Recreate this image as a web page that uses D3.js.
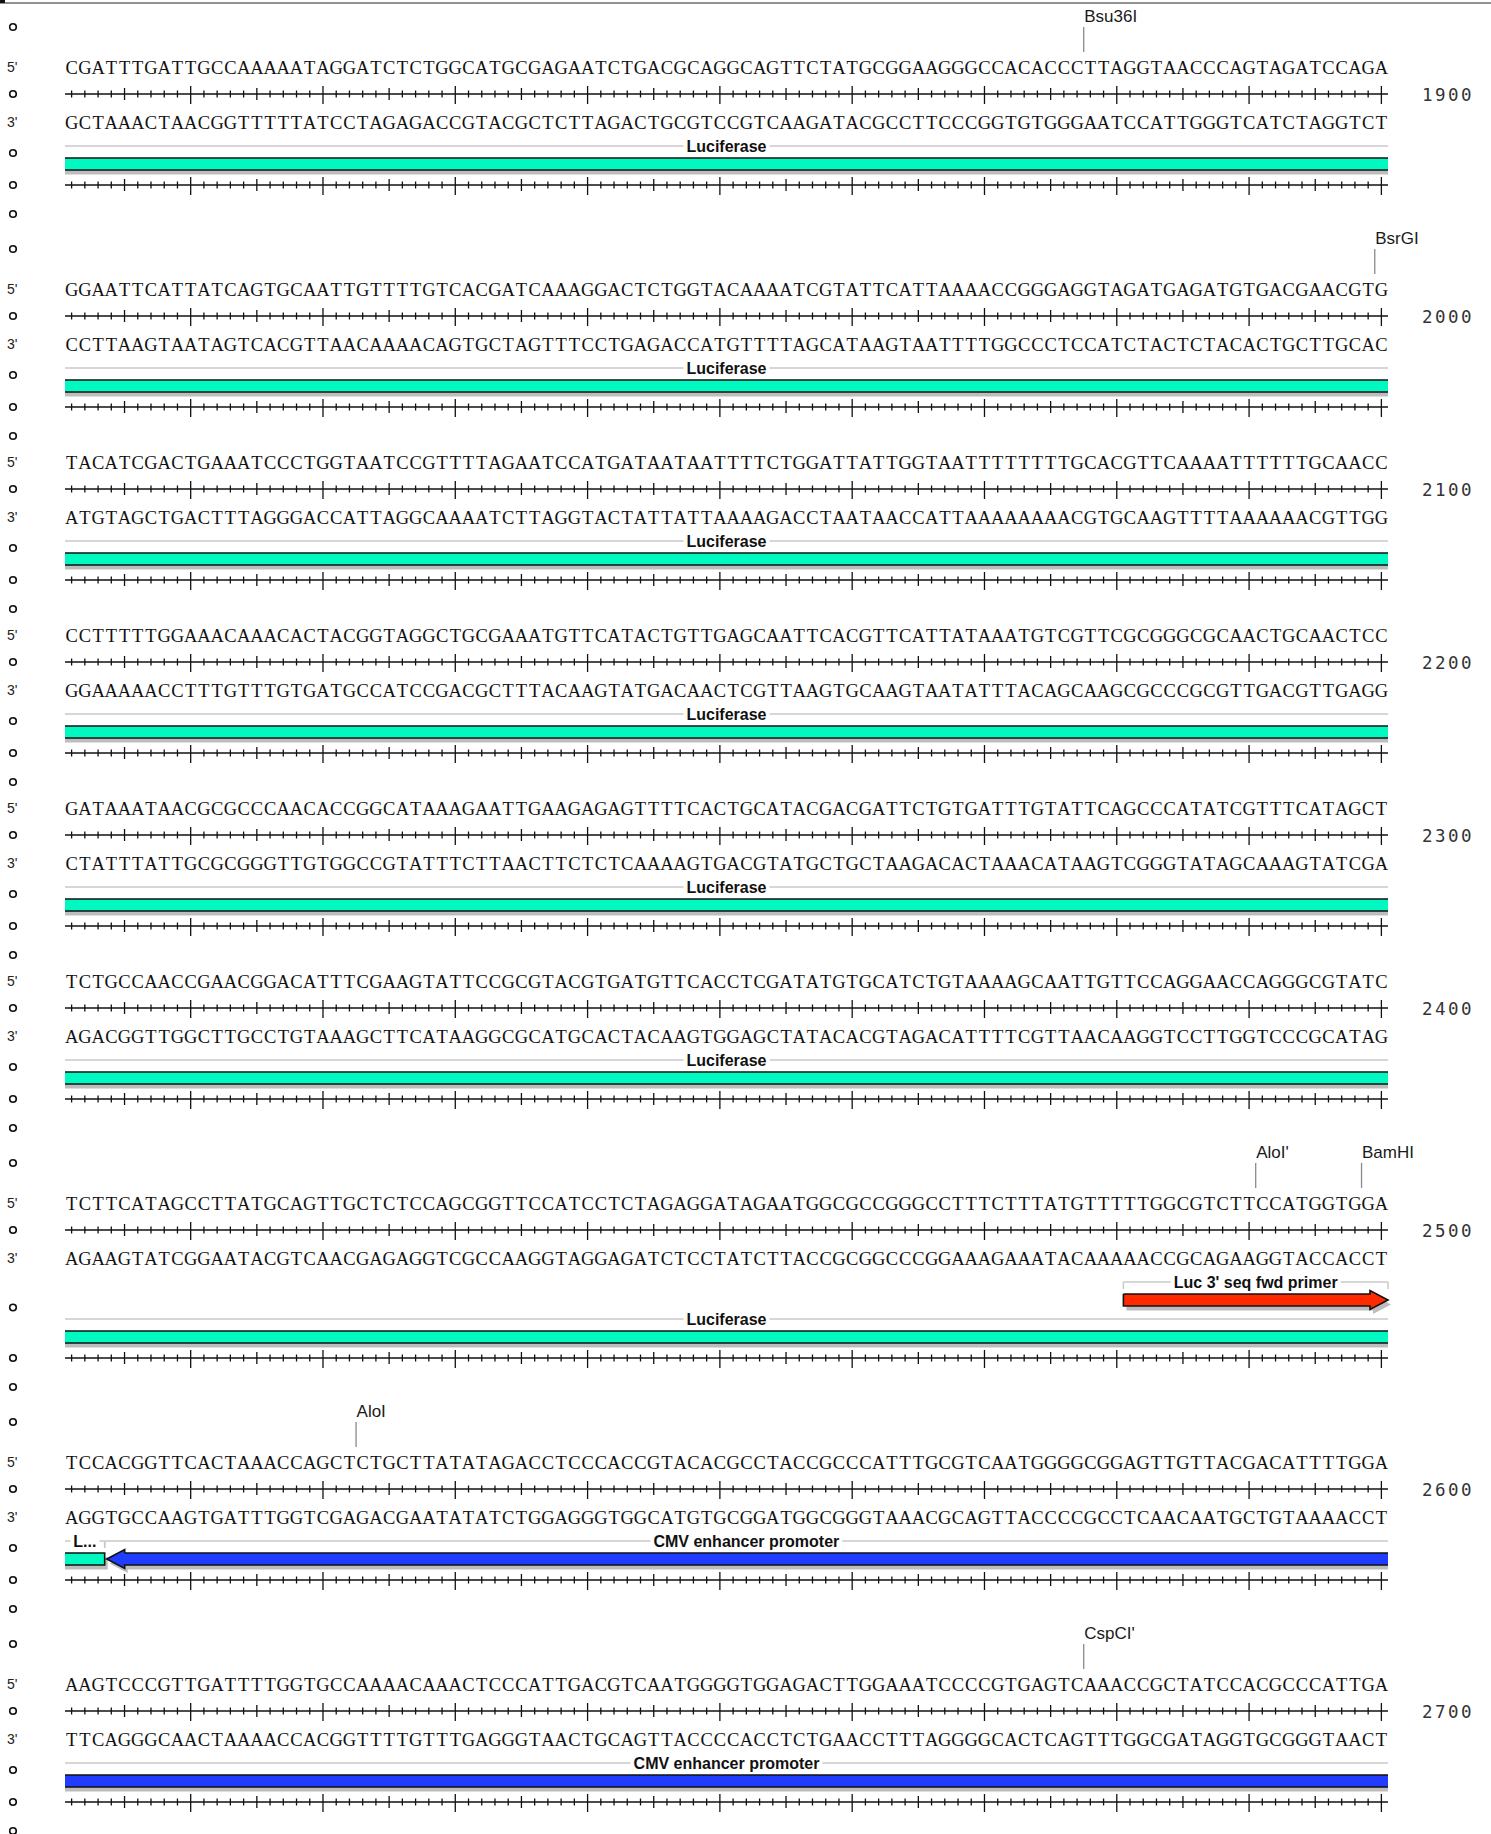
<!DOCTYPE html>
<html>
<head>
<meta charset="utf-8">
<script src="https://cdn.jsdelivr.net/npm/d3@7"></script>
<style>
body { margin: 0; background: #fff; }
svg { display: block; }
</style>
</head>
<body>
<svg id="seqSvg" width="1491" height="1834"></svg>
<script>
// top strand, 100 bp per row
const topStrand = [
    'CGATTTGATTGCCAAAAATAGGATCTCTGGCATGCGAGAATCTGACGCAGGCAGTTCTATGCGGAAGGGCCACACCCTTAGGTAACCCAGTAGATCCAGA',
    'GGAATTCATTATCAGTGCAATTGTTTTGTCACGATCAAAGGACTCTGGTACAAAATCGTATTCATTAAAACCGGGAGGTAGATGAGATGTGACGAACGTG',
    'TACATCGACTGAAATCCCTGGTAATCCGTTTTAGAATCCATGATAATAATTTTCTGGATTATTGGTAATTTTTTTTGCACGTTCAAAATTTTTTGCAACC',
    'CCTTTTTGGAAACAAACACTACGGTAGGCTGCGAAATGTTCATACTGTTGAGCAATTCACGTTCATTATAAATGTCGTTCGCGGGCGCAACTGCAACTCC',
    'GATAAATAACGCGCCCAACACCGGCATAAAGAATTGAAGAGAGTTTTCACTGCATACGACGATTCTGTGATTTGTATTCAGCCCATATCGTTTCATAGCT',
    'TCTGCCAACCGAACGGACATTTCGAAGTATTCCGCGTACGTGATGTTCACCTCGATATGTGCATCTGTAAAAGCAATTGTTCCAGGAACCAGGGCGTATC',
    'TCTTCATAGCCTTATGCAGTTGCTCTCCAGCGGTTCCATCCTCTAGAGGATAGAATGGCGCCGGGCCTTTCTTTATGTTTTTGGCGTCTTCCATGGTGGA',
    'TCCACGGTTCACTAAACCAGCTCTGCTTATATAGACCTCCCACCGTACACGCCTACCGCCCATTTGCGTCAATGGGGCGGAGTTGTTACGACATTTTGGA',
    'AAGTCCCGTTGATTTTGGTGCCAAAACAAACTCCCATTGACGTCAATGGGGTGGAGACTTGGAAATCCCCGTGAGTCAAACCGCTATCCACGCCCATTGA'
]
const blockEnds = [1900, 2000, 2100, 2200, 2300, 2400, 2500, 2600, 2700]

// enzyme name + cut (after this base)
const enzymes = ['Bsu36I', 'BsrGI', "AloI'", 'BamHI', 'AloI', "CspCI'"]
const enzymeCuts = [1877, 1999, 2490, 2498, 2522, 2677]

// features (start/end outside 1801-2700 just mean "goes on past the view")
const featureNames = ['Luciferase', 'CMV enhancer promoter', "Luc 3' seq fwd primer"]
const featureStart = [1700, 2504, 2481]
const featureEnd = [2503, 2800, 2500]
const featureStrand = [-1, -1, 1]
const featureKind = ['feature', 'feature', 'primer']

const featColor = {
    'Luciferase': '#00f9c0',
    'CMV enhancer promoter': '#1f3cff',
    "Luc 3' seq fwd primer": '#ff2a00'
}

const svg = d3.select('#seqSvg')
const x = d3.scaleLinear().domain([0, 100]).range([65, 1388])
const seqFont = '"Liberation Serif", "Times New Roman", serif'
const sansFont = '"Liberation Sans", Arial, Helvetica, sans-serif'
const monoFont = '"DejaVu Sans Mono", Menlo, monospace'

const comp = { A: 'T', T: 'A', G: 'C', C: 'G' }
function complement(s) {
    return s.split('').map(c => comp[c]).join('')
}

// top border
svg.append('line')
    .attr('x1', 0).attr('x2', 1491)
    .attr('y1', 3).attr('y2', 3)
    .attr('stroke', '#6e6e6e')
    .attr('stroke-width', 1.5)
svg.append('rect')
    .attr('x', 0).attr('y', 0)
    .attr('width', 5).attr('height', 3)
    .attr('fill', '#111')

function dot(g, y) {
    g.append('circle')
        .attr('cx', 13).attr('cy', y)
        .attr('r', 3.3)
        .attr('fill', 'none')
        .attr('stroke', '#111')
        .attr('stroke-width', 1.6)
}

function ruler(g, y) {
    g.append('line')
        .attr('x1', x(0)).attr('x2', x(100))
        .attr('y1', y).attr('y2', y)
        .attr('stroke', '#111')
        .attr('stroke-width', 1.5)
    g.selectAll(null)
        .data(d3.range(100))
        .join('line')
        .attr('x1', i => x(i + 0.5))
        .attr('x2', i => x(i + 0.5))
        .attr('y1', i => (i + 1) % 10 == 0 ? y - 8 : (i + 1) % 5 == 0 ? y - 6 : y - 3.5)
        .attr('y2', i => (i + 1) % 10 == 0 ? y + 10 : (i + 1) % 5 == 0 ? y + 6 : y + 3.5)
        .attr('stroke', '#111')
        .attr('stroke-width', 1.3)
}

function strandText(g, seq, y) {
    g.selectAll(null)
        .data(seq.split(''))
        .join('text')
        .attr('x', (d, i) => x(i + 0.5))
        .attr('y', y + 6.5)
        .attr('text-anchor', 'middle')
        .attr('font-family', seqFont)
        .attr('font-size', 18.5)
        .attr('fill', '#111')
        .text(d => d)
}

function sideLabel(g, t, y) {
    g.append('text')
        .attr('x', 7).attr('y', y + 5)
        .attr('font-family', sansFont)
        .attr('font-size', 14)
        .attr('fill', '#222')
        .text(t)
}

const BAR_H = 6, HEAD_H = 9.5, HEAD_L = 18

// polygon points of a bar / arrow
function shapePts(x1, x2, yc, headL, headR) {
    let tl = headL ? x1 + HEAD_L : x1
    let tr = headR ? x2 - HEAD_L : x2
    let pts = [[tl, yc - BAR_H], [tr, yc - BAR_H]]
    if (headR) pts.push([tr, yc - HEAD_H], [x2, yc], [tr, yc + HEAD_H], [tr, yc + BAR_H])
    else pts.push([x2, yc + BAR_H])
    pts.push([tl, yc + BAR_H])
    if (headL) pts.push([tl, yc + HEAD_H], [x1, yc], [tl, yc - HEAD_H])
    return pts
}

function outline(x1, x2, yc, headL, headR, capL, capR) {
    let h = BAR_H, H = HEAD_H
    let tl = headL ? x1 + HEAD_L : x1
    let tr = headR ? x2 - HEAD_L : x2
    let p = 'M' + tl + ',' + (yc - h) + 'L' + tr + ',' + (yc - h)
    if (headR) {
        p += 'L' + tr + ',' + (yc - H) + 'L' + x2 + ',' + yc +
            'L' + tr + ',' + (yc + H) + 'L' + tr + ',' + (yc + h)
    } else if (capR) {
        p += 'L' + x2 + ',' + (yc + h)
    } else {
        p += 'M' + x2 + ',' + (yc + h)
    }
    p += 'L' + tl + ',' + (yc + h)
    if (headL) {
        p += 'L' + tl + ',' + (yc + H) + 'L' + x1 + ',' + yc +
            'L' + tl + ',' + (yc - H) + 'L' + tl + ',' + (yc - h)
    } else if (capL) {
        p += 'L' + tl + ',' + (yc - h)
    }
    return p
}

let cursor = -8
topStrand.forEach((seq, b) => {
    let bEnd = blockEnds[b]
    let bStart = bEnd - 99
    let g = svg.append('g').attr('class', 'block')

    let cuts = enzymes
        .map((n, i) => ({ name: n, local: enzymeCuts[i] - bStart + 1 }))
        .filter(d => d.local >= 0 && d.local <= 100)

    let feats = featureNames
        .map((n, i) => ({
            name: n, start: featureStart[i], end: featureEnd[i],
            strand: featureStrand[i], lane: featureKind[i] == 'primer' ? 0 : 1
        }))
        .filter(d => d.start <= bEnd && d.end >= bStart)
    let lanes = Array.from(new Set(feats.map(d => d.lane))).sort()
    let nRows = Math.max(1, lanes.length)

    let y0
    if (cuts.length > 0) {
        let ey = cursor + 35
        dot(g, ey)
        y0 = ey + 40
    } else {
        y0 = cursor + 26
    }

    // enzyme sites
    cuts.forEach(d => {
        g.append('line')
            .attr('x1', x(d.local)).attr('x2', x(d.local))
            .attr('y1', y0 - 40).attr('y2', y0 - 15)
            .attr('stroke', '#8a8a8a')
            .attr('stroke-width', 1.3)
        g.append('text')
            .attr('x', x(d.local) + 0.5)
            .attr('y', y0 - 45)
            .attr('font-family', sansFont)
            .attr('font-size', 17)
            .attr('fill', '#1a1a1a')
            .text(d.name)
    })

    let rulerY = y0 + 27
    let y3 = y0 + 55
    sideLabel(g, "5'", y0)
    strandText(g, seq, y0)
    dot(g, rulerY)
    ruler(g, rulerY)
    g.append('text')
        .attr('x', 1422).attr('y', rulerY + 6.5)
        .attr('font-family', monoFont)
        .attr('font-size', 17.5)
        .attr('letter-spacing', 2.5)
        .attr('fill', '#333')
        .text(bEnd)
    sideLabel(g, "3'", y3)
    strandText(g, complement(seq), y3)

    // features
    dot(g, y0 + 86 + 37 * (nRows - 1) / 2)
    feats.forEach(f => {
        let row = lanes.indexOf(f.lane)
        let lineY = y0 + 79 + 37 * row
        let yc = lineY + 18
        let startsHere = f.start >= bStart
        let endsHere = f.end <= bEnd
        let x1 = x(Math.max(f.start, bStart) - bStart)
        let x2 = x(Math.min(f.end, bEnd) - bStart + 1)
        let headR = f.strand > 0 && endsHere
        let headL = f.strand < 0 && startsHere
        let capR = endsHere && !headR
        let capL = startsHere && !headL
        let bx1 = headL ? x1 + 2 : x1

        // shadow
        let sx1 = startsHere ? bx1 : bx1 - 3
        let sx2 = endsHere ? x2 : x2 - 3
        g.append('polygon')
            .attr('points', shapePts(sx1, sx2, yc, headL, headR).map(p => p.join(',')).join(' '))
            .attr('transform', 'translate(3,4.5)')
            .attr('fill', '#bdbdbd')
        g.append('polygon')
            .attr('points', shapePts(bx1, x2, yc, headL, headR).map(p => p.join(',')).join(' '))
            .attr('fill', featColor[f.name])
        g.append('path')
            .attr('d', outline(bx1, x2, yc, headL, headR, capL, capR))
            .attr('fill', 'none')
            .attr('stroke', '#111')
            .attr('stroke-width', 1.6)

        // label over a grey bracket line
        let cx = (x1 + x2) / 2
        let lab = g.append('text')
            .attr('x', cx).attr('y', lineY + 5.5)
            .attr('text-anchor', 'middle')
            .attr('font-family', sansFont)
            .attr('font-weight', 'bold')
            .attr('font-size', 16)
            .attr('fill', '#111')
            .text(f.name)
        let w = lab.node().getComputedTextLength()
        let n = f.name.length
        while (w + 12 > x2 - x1 && n > 1) {
            n--
            lab.text(f.name.slice(0, n) + '...')
            w = lab.node().getComputedTextLength()
        }
        let segs = [[x1, cx - w / 2 - 3], [cx + w / 2 + 3, x2]]
        segs.forEach(s => {
            if (s[1] > s[0]) {
                g.append('line')
                    .attr('x1', s[0]).attr('x2', s[1])
                    .attr('y1', lineY).attr('y2', lineY)
                    .attr('stroke', '#c9c9c9')
                    .attr('stroke-width', 1.5)
            }
        })
        if (startsHere) {
            g.append('line')
                .attr('x1', x1).attr('x2', x1)
                .attr('y1', lineY).attr('y2', lineY + 7)
                .attr('stroke', '#c9c9c9').attr('stroke-width', 1.5)
        }
        if (endsHere) {
            g.append('line')
                .attr('x1', x2).attr('x2', x2)
                .attr('y1', lineY).attr('y2', lineY + 7)
                .attr('stroke', '#c9c9c9').attr('stroke-width', 1.5)
        }
    })

    let bottomY = y0 + 118 + 37 * (nRows - 1)
    dot(g, bottomY)
    ruler(g, bottomY)
    let spacer = bottomY + 29
    dot(g, spacer)
    cursor = spacer
})
</script>
</body>
</html>
